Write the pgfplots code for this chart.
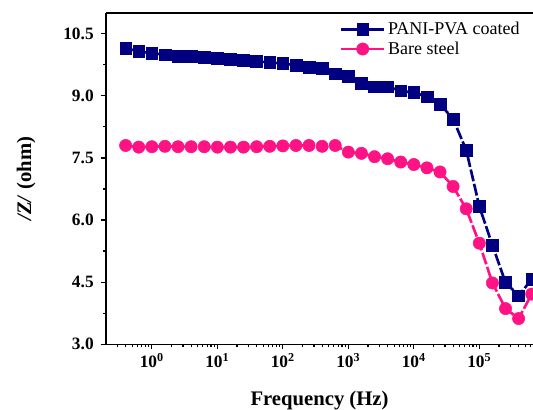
\documentclass[border=0pt]{standalone}
\usepackage{fontspec}
\setmainfont{Liberation Serif}
\usepackage{pgfplots}
\pgfplotsset{compat=1.18}
\definecolor{navy}{HTML}{000080}
\definecolor{hotpink}{HTML}{FF1283}

\begin{document}
\begin{tikzpicture}
\begin{axis}[
  xmode=log,
  scale only axis,
  width=320pt, height=248.25pt,
  xmin=0.2, xmax=6.6e5,
  ymin=3, ymax=11,
  axis x line*=bottom, axis y line*=left,
  axis line style={line width=1pt},
  tick align=outside,
  major tick length=3.75pt, minor tick length=2.25pt,
  every tick/.style={black, line width=0.9pt},
  xtick={1,10,100,1000,10000,100000},
  xticklabels={10\textsuperscript{0},10\textsuperscript{1},10\textsuperscript{2},10\textsuperscript{3},10\textsuperscript{4},10\textsuperscript{5}},
  minor xtick={0.3,0.4,0.5,0.6,0.7,0.8,0.9,2,3,4,5,6,7,8,9,20,30,40,50,60,70,80,90,200,300,400,500,600,700,800,900,2000,3000,4000,5000,6000,7000,8000,9000,20000,30000,40000,50000,60000,70000,80000,90000,200000,300000,400000,500000,600000},
  ytick={3,4.5,6,7.5,9,10.5},
  yticklabels={3.0,4.5,6.0,7.5,9.0,10.5},
  minor ytick={3.75,5.25,6.75,8.25,9.75},
  tick label style={font=\fontsize{13}{15}\selectfont\bfseries},
  yticklabel style={xshift=-2pt},
  xlabel={Frequency (Hz)},
  ylabel={\textit{/Z/} (ohm)},
  label style={font=\fontsize{15.5}{18}\selectfont\bfseries},
  xlabel style={at={(axis description cs:0.5,-0.184)}, anchor=base},
  ylabel style={at={(axis description cs:-0.187,0.5)}, anchor=center},
  legend style={at={(axis description cs:0.985,0.99)}, anchor=north east,
    draw=none, fill=none, font=\fontsize{13.5}{16}\selectfont,
    legend cell align=left, row sep=0pt},
  legend image code/.code={\draw[#1, solid, mark repeat=2, mark phase=2]
    plot coordinates {(0pt,0pt) (16pt,0pt) (32pt,0pt)};},
  clip=false,
]
\addplot[navy, line width=2pt, dash pattern=on 9pt off 2pt,
  mark=square*, mark size=4.4pt, mark options={solid, line width=0.4pt}] coordinates {
 (0.3981,10.155) (0.6310,10.07) (1,10.03) (1.585,9.99) (2.512,9.96)
 (3.981,9.95) (6.310,9.93) (10,9.90) (15.85,9.88) (25.12,9.865)
 (39.81,9.83) (63.10,9.81) (100,9.78) (158.5,9.74) (251.2,9.69)
 (398.1,9.67) (631.0,9.53) (1000,9.47) (1585,9.30) (2512,9.22)
 (3981,9.22) (6310,9.12) (10000,9.08) (15850,8.98) (25120,8.80)
 (39810,8.44) (63100,7.69) (100000,6.33) (158500,5.39) (251200,4.49)
 (398100,4.17) (631000,4.57)
};
\addplot[hotpink, line width=2pt, dash pattern=on 9pt off 2pt,
  mark=*, mark size=4.6pt, mark options={solid, line width=0.4pt}] coordinates {
 (0.3981,7.80) (0.6310,7.76) (1,7.77) (1.585,7.78) (2.512,7.77)
 (3.981,7.77) (6.310,7.77) (10,7.76) (15.85,7.76) (25.12,7.76)
 (39.81,7.77) (63.10,7.78) (100,7.79) (158.5,7.80) (251.2,7.80)
 (398.1,7.78) (631.0,7.80) (1000,7.64) (1585,7.61) (2512,7.53)
 (3981,7.48) (6310,7.40) (10000,7.34) (15850,7.26) (25120,7.16)
 (39810,6.81) (63100,6.27) (100000,5.44) (158500,4.48) (251200,3.86)
 (398100,3.62) (631000,4.21)
};
\legend{PANI-PVA coated, Bare steel}
\coordinate (BL) at (rel axis cs:0,0);
\coordinate (TL) at (rel axis cs:0,1);
\coordinate (TR) at (rel axis cs:1,1);
\end{axis}
\draw[line width=1pt] (TL) -- (TR);
\pgfresetboundingbox
\path ([xshift=-79.5pt,yshift=-48.75pt]BL) rectangle ([yshift=9.75pt]TR);
\end{tikzpicture}
\end{document}
